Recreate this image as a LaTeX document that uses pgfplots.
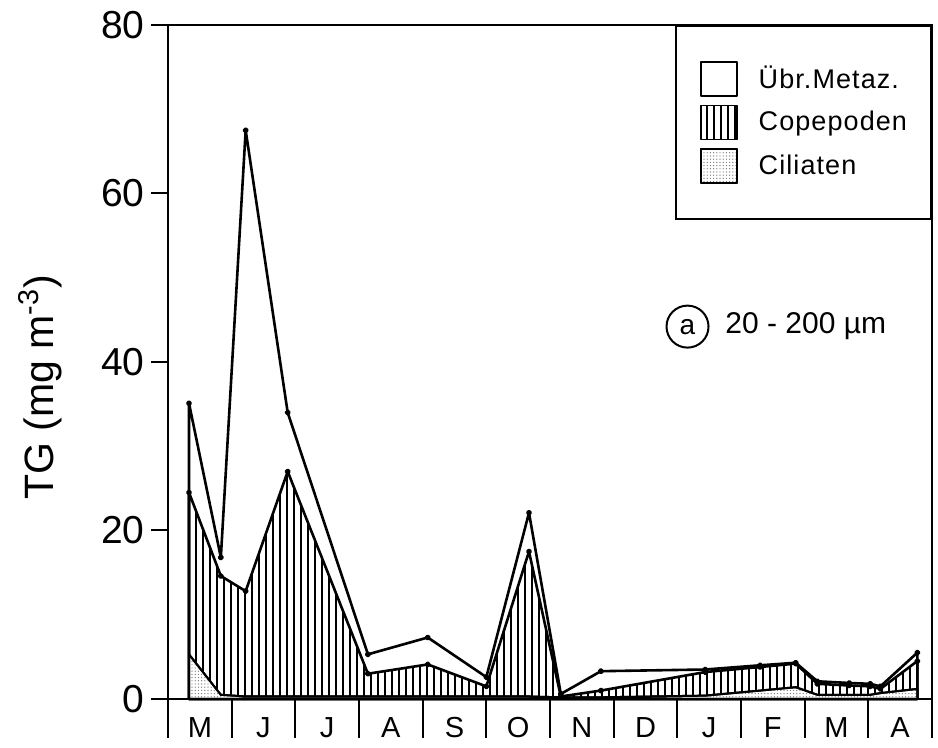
\documentclass[border=0pt]{standalone}
\usepackage{fontspec}
\setmainfont{Liberation Sans}
\newfontfamily\legfont{Liberation Sans}[LetterSpace=4]
\usepackage{pgfplots}
\usepackage{pgfplotstable}
\pgfplotsset{compat=1.18}
\usetikzlibrary{patterns.meta}

\pgfplotstableread{
x     tot   cop   cil
0.33  35.1  24.5  5.3
0.83  16.8  14.6  0.5
1.22  67.5  12.8  0.3
1.88  34.0  27.0  0.3
3.14  5.3   3.0   0.3
4.08  7.3   4.1   0.3
5.00  2.6   1.5   0.3
5.67  22.1  17.5  0.3
6.17  0.6   0.3   0.2
6.80  3.3   1.0   0.2
8.44  3.5   3.2   0.4
9.30  4.0   3.8   1.0
9.86  4.3   4.2   1.4
10.20 2.1   1.8   0.5
10.70 1.9   1.6   0.5
11.03 1.8   1.5   0.5
11.19 1.5   1.2   0.7
11.77 5.5   4.5   1.2
}\data

\begin{document}
\begin{tikzpicture}
\begin{axis}[
  scale only axis, width=382pt, height=337pt,
  xmin=0, xmax=12, ymin=0, ymax=80,
  axis line style={line width=1pt},
  tick align=outside,
  ytick={0,20,40,60,80}, ytick pos=left,
  major tick length=8.5pt,
  ytick style={line width=1pt, black},
  xtick={0.5,1.5,...,11.5},
  xticklabels={M,J,J,A,S,O,N,D,J,F,M,A},
  xtick pos=bottom,
  xtick style={draw=none},
  /pgf/number format/assume math mode=true,
  yticklabel style={font=\fontsize{19.5}{19.5}\selectfont, inner sep=0pt, xshift=-3pt},
  xticklabel style={font=\fontsize{14.5}{14.5}\selectfont, inner sep=0pt, yshift=-0.5pt},
  ylabel={TG (mg m\textsuperscript{-3})},
  every axis y label/.style={at={(rel axis cs:0,0.462)}, xshift=-64pt, rotate=90, anchor=center, font=\fontsize{20.5}{20.5}\selectfont},
  clip=false,
  legend image code/.code={\draw[#1, line width=0.8pt] (0pt,-8.5pt) rectangle (18pt,8.5pt);},
  legend style={at={(rel axis cs:1,1)}, anchor=north east, draw=black, line width=1pt,
    inner xsep=12pt, inner ysep=17.5pt, row sep=4pt, column sep=10.5pt,
    font=\legfont\fontsize{13.5}{14}\selectfont, cells={anchor=west}, nodes={inner sep=0pt}},
]
\addplot[draw=black, line width=1.3pt, line join=round, fill=white, mark=*, mark size=0.9pt, mark options={fill=black}] table[x=x,y=tot]{\data} \closedcycle;
\addplot[draw=black, line width=1.3pt, line join=round, pattern={Lines[angle=90, distance=3.5pt, line width=0.8pt]}, pattern color=black, mark=*, mark size=0.9pt, mark options={fill=black}] table[x=x,y=cop]{\data} \closedcycle;
\addplot[draw=black, line width=1pt, line join=round, fill=white, postaction={pattern={Dots[distance=1.6pt, radius=0.35pt]}, pattern color=gray}] table[x=x,y=cil]{\data} \closedcycle;
\legend{Übr.Metaz., Copepoden, Ciliaten}
\pgfplotsinvokeforeach{0,...,12}{\draw[line width=1pt] (axis cs:#1,0) -- ++(0pt,-19.5pt);}
\node[circle, draw, line width=1pt, inner sep=0pt, minimum size=21pt, font=\fontsize{14}{14}\selectfont] at (axis cs:8.16,44.2) {a};
\node[anchor=west, inner sep=0pt, font=\fontsize{15}{15}\selectfont] at (axis cs:8.75,44.2) {20 - 200 µm};
\coordinate (bl) at (rel axis cs:0,0);
\coordinate (tr) at (rel axis cs:1,1);
\end{axis}
\pgfresetboundingbox
\path ([shift={(-84pt,-24.5pt)}]bl) rectangle ([shift={(3pt,12.5pt)}]tr);
\end{tikzpicture}
\end{document}
